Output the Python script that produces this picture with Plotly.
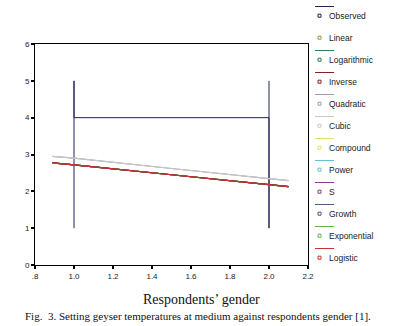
import plotly.graph_objects as go

# ---- data ----
obs_x = [1, 1, 1, 2, 2, 2]
obs_y = [1, 5, 4, 4, 1, 5]

fit_x = [0.89, 1.0, 1.5, 2.0, 2.1]
fit_red = [2.77, 2.72, 2.45, 2.17, 2.13]     # linear/log/inverse/compound/... (overlapping)
fit_gray = [2.95, 2.90, 2.62, 2.34, 2.29]    # quadratic / cubic

series_names = ["Observed", "Linear", "Logarithmic", "Inverse", "Quadratic", "Cubic",
                "Compound", "Power", "S", "Growth", "Exponential", "Logistic"]
series_colors = ["#23224f", "#9a9a3a", "#2f7d4a", "#8a1f1f", "#9e9e9e", "#c8c8c8",
                 "#e8e060", "#68c0d0", "#8c3a8c", "#4e5a7e", "#6ab04c", "#c83232"]
line_shown = [True, False, True, True, True, True, True, True, True, True, True, True]
fit_group = {"Linear": fit_red, "Logarithmic": fit_red, "Inverse": fit_red,
             "Quadratic": fit_gray, "Cubic": fit_gray, "Compound": fit_red,
             "Power": fit_red, "S": fit_red, "Growth": fit_red,
             "Exponential": fit_red, "Logistic": fit_red}
draw_order = ["Linear", "Logarithmic", "Compound", "Power", "S", "Growth",
              "Exponential", "Inverse", "Quadratic", "Cubic", "Logistic"]

x_ticks = [0.8, 1.0, 1.2, 1.4, 1.6, 1.8, 2.0, 2.2]
x_tick_labels = [".8", "1.0", "1.2", "1.4", "1.6", "1.8", "2.0", "2.2"]
y_ticks = [0, 1, 2, 3, 4, 5, 6]

W, H = 399, 326
ML, MR, MT, MB = 35, 91, 44, 61
PW, PH = W - ML - MR, H - MT - MB

def px2x(px):
    return (px - ML) / PW

def py2y(py):
    return (H - MB - py) / PH

color_of = dict(zip(series_names, series_colors))

fig = go.Figure()
fig.add_trace(go.Scatter(x=obs_x, y=obs_y, mode="lines",
                         line=dict(color=color_of["Observed"], width=1),
                         showlegend=False, hoverinfo="skip"))
for name in draw_order:
    ys = fit_group[name]
    fig.add_trace(go.Scatter(x=fit_x, y=ys, mode="lines",
                             line=dict(color=color_of[name], width=1.2),
                             showlegend=False, hoverinfo="skip"))

shapes = []
annotations = []
for i, (name, col, show) in enumerate(zip(series_names, series_colors, line_shown)):
    ty = 15.7 + 22 * i
    ly = 6.5 + 22 * i
    if show:
        shapes.append(dict(type="line", xref="paper", yref="paper",
                           x0=px2x(315), x1=px2x(334), y0=py2y(ly), y1=py2y(ly),
                           line=dict(color=col, width=1)))
    shapes.append(dict(type="rect", xref="paper", yref="paper",
                       x0=px2x(318), x1=px2x(321), y0=py2y(ty + 1.5), y1=py2y(ty - 1.5),
                       line=dict(color=col, width=1), fillcolor="white"))
    annotations.append(dict(text=name, xref="paper", yref="paper",
                            x=px2x(327), y=py2y(ty), xanchor="left", yanchor="middle",
                            showarrow=False,
                            font=dict(family="Liberation Sans, Arial", size=8.5, color="#222")))

annotations.append(dict(text="Respondents\u2019 gender", xref="paper", yref="paper",
                        x=px2x(201), y=py2y(299), xanchor="center", yanchor="middle",
                        showarrow=False,
                        font=dict(family="Liberation Serif, Times New Roman", size=14, color="#111")))
annotations.append(dict(text="Fig.  3. Setting geyser temperatures at medium against respondents gender [1].",
                        xref="paper", yref="paper",
                        x=px2x(198), y=py2y(316), xanchor="center", yanchor="middle",
                        showarrow=False,
                        font=dict(family="Liberation Serif, Times New Roman", size=11, color="#111")))

fig.update_layout(
    width=W, height=H,
    margin=dict(l=ML, r=MR, t=MT, b=MB),
    paper_bgcolor="white", plot_bgcolor="white",
    showlegend=False,
    shapes=shapes, annotations=annotations,
    xaxis=dict(range=[0.8, 2.2], tickvals=x_ticks, ticktext=x_tick_labels,
               showgrid=False, zeroline=False, showline=True, linecolor="black",
               linewidth=1, mirror=True, ticks="outside", ticklen=3, tickwidth=2,
               tickcolor="black",
               tickfont=dict(family="Liberation Sans, Arial", size=8, color="#222")),
    yaxis=dict(range=[0, 6], tickvals=y_ticks,
               showgrid=False, zeroline=False, showline=True, linecolor="black",
               linewidth=1, mirror=True, ticks="outside", ticklen=3, tickwidth=2,
               tickcolor="black",
               tickfont=dict(family="Liberation Sans, Arial", size=8, color="#222")),
)

fig.write_html("out.html", config={"displayModeBar": False},
               post_script="document.body.style.margin='0';document.body.style.overflow='hidden';")
